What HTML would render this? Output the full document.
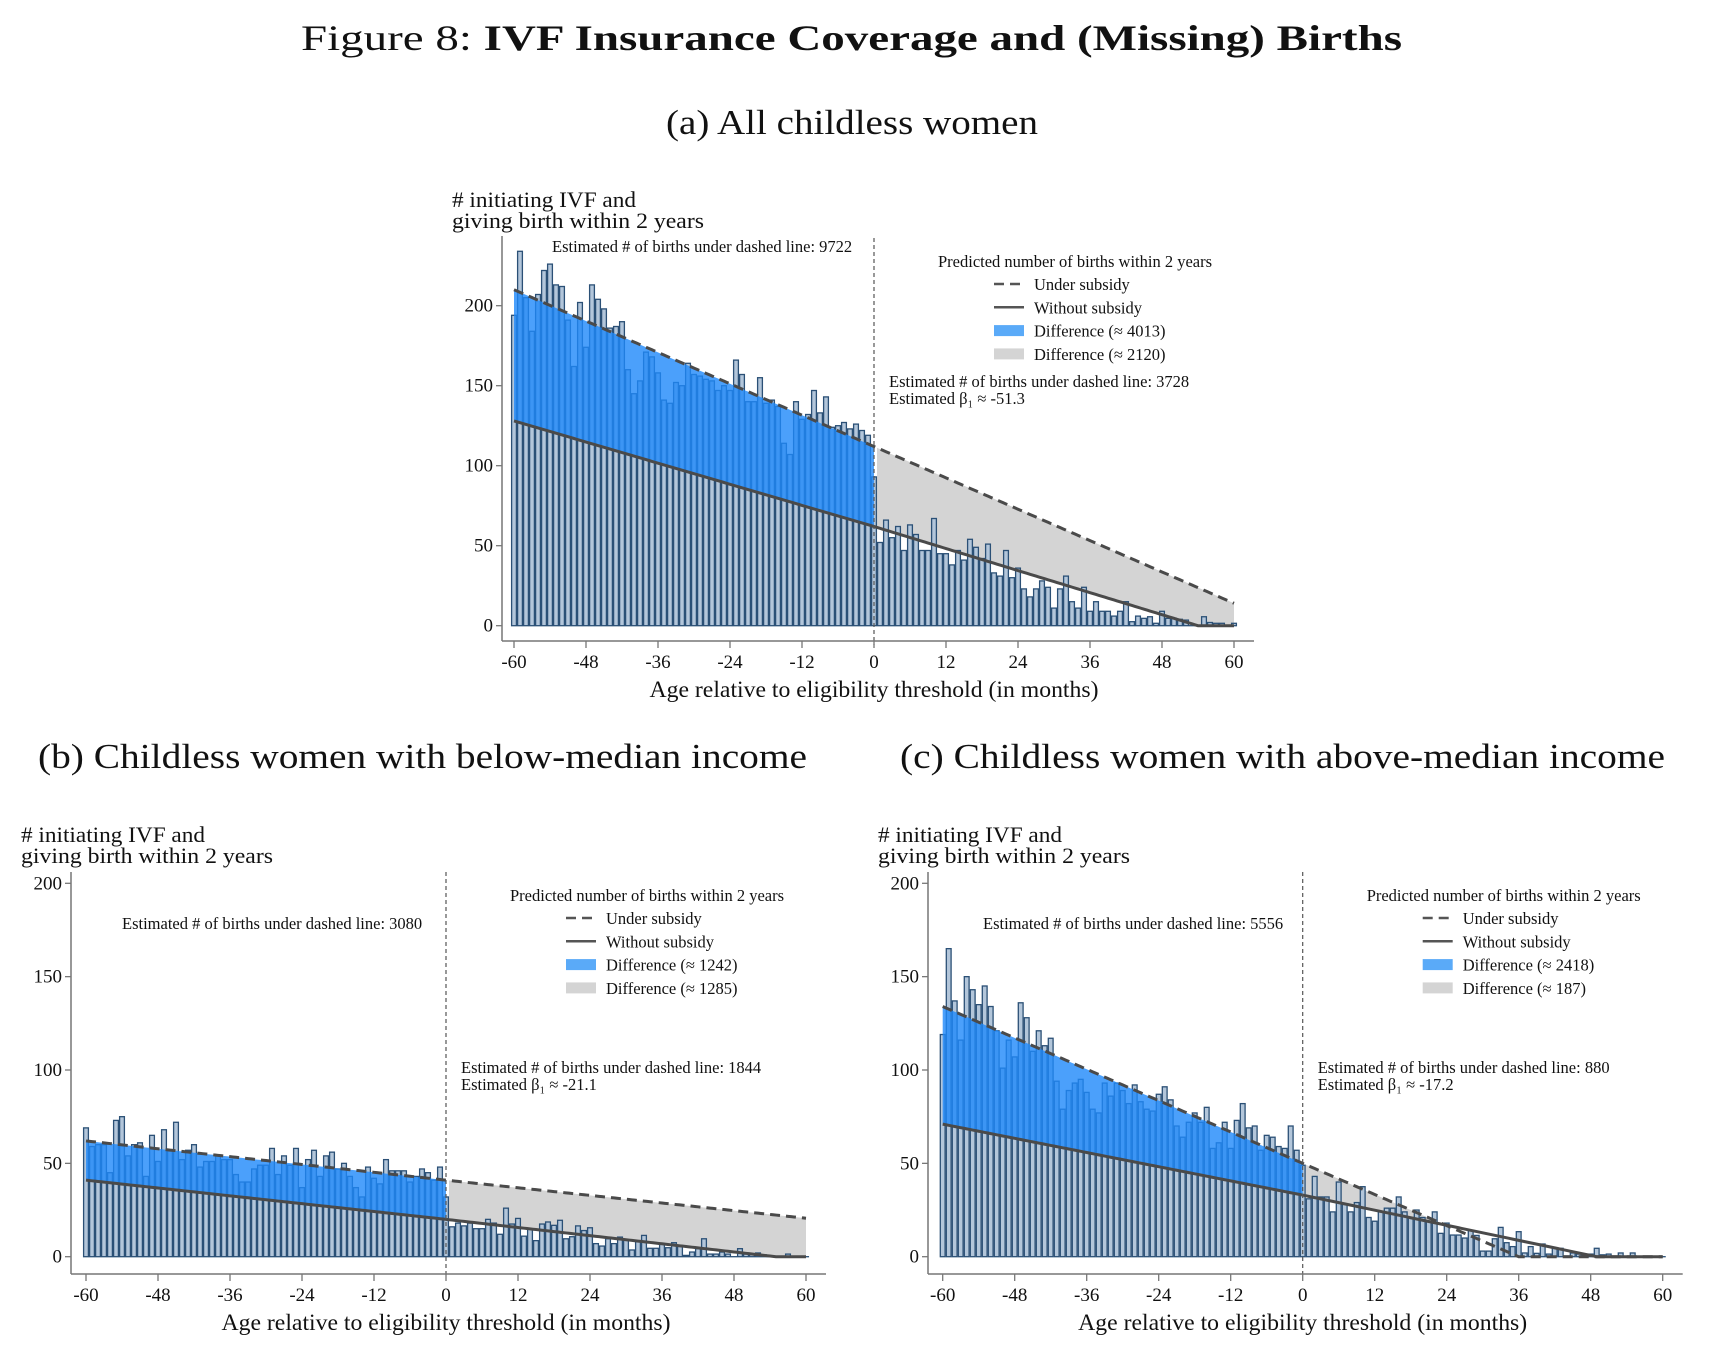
<!DOCTYPE html>
<html><head><meta charset="utf-8">
<style>
html,body{margin:0;padding:0;background:#fff;}
svg{display:block;font-family:"Liberation Serif",serif;}
</style></head>
<body>
<svg id="fig" width="1709" height="1353" viewBox="0 0 1709 1353" xmlns="http://www.w3.org/2000/svg">
<text x="301" y="50" font-size="36" fill="#111" textLength="1101" lengthAdjust="spacingAndGlyphs">Figure 8: <tspan font-weight="bold">IVF Insurance Coverage and (Missing) Births</tspan></text>
<text x="666" y="134" font-size="35" fill="#111" textLength="372" lengthAdjust="spacingAndGlyphs">(a) All childless women</text>
<text x="38" y="768" font-size="35" fill="#111" textLength="769" lengthAdjust="spacingAndGlyphs">(b) Childless women with below-median income</text>
<text x="900" y="768" font-size="35" fill="#111" textLength="765" lengthAdjust="spacingAndGlyphs">(c) Childless women with above-median income</text>
</svg>
<script>
// ---- data ----
const months = [];
for (let m = -60; m <= 60; m++) months.push(m);
const xTicks = [-60,-48,-36,-24,-12,0,12,24,36,48,60];
const yTicks = [0,50,100,150,200];

const barsA = [194,234,205,184,207,222,226,213,212,191,162,202,174,213,204,198,186,187,190,160,145,153,171,168,158,141,139,152,150,164,157,156,154,153,147,150,147,166,157,140,140,155,139,141,137,
114,107,140,129,132,147,133,143,124,125,127,123,126,122,119,93,
52,66,55,62,47,63,57,47,47,67,45,45,38,47,41,54,49,42,51,33,31,47,30,36,23,18,23,28,24,11,23,31,15,11,24,9,15,9,9,6,9,15,2.5,6,4.6,5.6,1.5,9,4.6,4.6,4,3.5,0,0,5.6,2,1.5,1.5,0,1.5];
const barsB = [69,59,60,60,45,73,75,54,60,61,43,65,51,68,57,72,52,57,60,48,51,51,54,52,52,44,40,40,47,49,49,58,44,54,49,58,37,52,57,43,54,56,47,50,43,37,32,48,42,39,52,46,46,46,40,43,47,45,41,48,32,
16,18,16.5,18,15,15,20,18,12,26,17.5,20.5,11,14.8,8.6,17.5,18.6,16.8,19.5,9.6,10.7,16.5,14,15.5,7,5.7,9.6,7,10.5,9,3.6,8,11.4,4.5,4.5,6.8,4.8,7.5,6,0.7,2.5,4.3,9.6,1.4,1.4,2.5,1.4,0,4.3,1.4,1.4,2,1,0,0,0,1.4,0,0,0];
const barsC = [119,165,137,116,150,143,135,145,134,121,101,116,107,136,128,110,121,113,117,94,79,89,93,95,88,79,77,93,86,93,89,82,92,83,79,78,87,91,84,70,64,72,77,72,80,58,61,72,58,73,82,69,70,57,65,64,59,58,70,57,49,
31,43,32,32,24,40,28,24,29,37.5,21,19,24,26,26,32,24,21,25,21,19,24,12.5,18,11.6,11.6,10,14,11.4,3,3,9.6,15.7,7.5,5.4,13.4,2,5.4,1.8,6.8,1.4,4.5,4.5,0.4,2,1.4,1,1.4,4.5,1,1.4,0,2,0,2,0,0,0,0,0];

// model lines: [month, value] knots
const dashedA = [[-60,210],[0,112],[60,14]];
const solidA  = [[-60,128],[0,62],[54,0],[60,0]];
const dashedB = [[-60,62],[0,41],[60,20.6]];
const solidB  = [[-60,41],[0,20],[55,0],[60,0]];
const dashedC = [[-60,134],[0,50],[36,0],[60,0]];
const solidC  = [[-60,71],[0,33],[49,0],[60,0]];

const notesA = ["9722","3728","-51.3","4013","2120"];
const notesB = ["3080","1844","-21.1","1242","1285"];
const notesC = ["5556","880","-17.2","2418","187"];

// ---- drawing ----
const NS = "http://www.w3.org/2000/svg";
const svg = document.getElementById("fig");
function mk(tag, attrs, parent) {
  const e = document.createElementNS(NS, tag);
  for (const k in attrs) e.setAttribute(k, attrs[k]);
  (parent || svg).appendChild(e);
  return e;
}
function interp(knots, m) {
  for (let i = 0; i < knots.length - 1; i++) {
    const [a, va] = knots[i], [b, vb] = knots[i + 1];
    if (m >= a && m <= b) return va + (vb - va) * (m - a) / (b - a);
  }
  return knots[knots.length - 1][1];
}

function panel(P) {
  const g = mk("g", {});
  
  
  const X = m => P.x0 + (m + 60) * P.sx;
  const Y = v => P.base - v * P.sy;
  const fine = [];
  for (let m = -60; m <= 60; m += 0.5) fine.push(m);

  let pts = [];
  const post = fine.filter(m => m >= 0.5);
  post.forEach(m => pts.push(X(m) + "," + Y(Math.max(interp(P.dashed, m), interp(P.solid, m)))));
  post.slice().reverse().forEach(m => pts.push(X(m) + "," + Y(interp(P.solid, m))));
  const grey = mk("polygon", {points: pts.join(" "), fill: "#d4d4d4"}, g);
  
  

  P.bars.forEach((v, i) => {
    const m = months[i];
    const r = mk("rect", {x: X(m) - 2.4, y: Y(v), width: 4.8, height: Math.max(v * P.sy, 0.01),
      fill: "#b3c6da", stroke: "#2b5076", "stroke-width": 1.3}, g);
    
    
  });

  pts = [];
  const pre = fine.filter(m => m <= 0);
  pre.forEach(m => pts.push(X(m) + "," + Y(interp(P.dashed, m))));
  pre.slice().reverse().forEach(m => pts.push(X(m) + "," + Y(interp(P.solid, m))));
  const blue = mk("polygon", {points: pts.join(" "), fill: "rgba(30,136,250,0.8)"}, g);
  
  

  const dl = mk("polyline", {points: fine.map(m => X(m) + "," + Y(interp(P.dashed, m))).join(" "),
    fill: "none", stroke: "#4a4a4a", "stroke-width": 3, "stroke-dasharray": "10 6"}, g);
  
  
  const sl = mk("polyline", {points: fine.map(m => X(m) + "," + Y(interp(P.solid, m))).join(" "),
    fill: "none", stroke: "#4a4a4a", "stroke-width": 3}, g);
  
  

  const vl = mk("line", {x1: X(0), x2: X(0), y1: P.vtop, y2: P.axisY + 4, stroke: "#555", "stroke-width": 1.2, "stroke-dasharray": "4 3"}, g);
  
  

  const ya = mk("line", {x1: P.axisX, x2: P.axisX, y1: P.ytop, y2: P.axisY, stroke: "#777", "stroke-width": 1.5}, g);
  
  
  const xa = mk("line", {x1: P.axisX, x2: X(60) + 20, y1: P.axisY, y2: P.axisY, stroke: "#777", "stroke-width": 1.5}, g);
  
  
  yTicks.forEach(t => {
    mk("line", {x1: P.axisX - 6, x2: P.axisX, y1: Y(t), y2: Y(t), stroke: "#777", "stroke-width": 1.3}, g);
    const tl = mk("text", {x: P.axisX - 9, y: Y(t) + 6, "text-anchor": "end", "font-size": 19, fill: "#111"}, g);
    tl.textContent = t;
    
    
  });
  xTicks.forEach(t => {
    mk("line", {x1: X(t), x2: X(t), y1: P.axisY, y2: P.axisY + 7, stroke: "#777", "stroke-width": 1.3}, g);
    const tl = mk("text", {x: X(t), y: P.axisY + 27, "text-anchor": "middle", "font-size": 19, fill: "#111"}, g);
    tl.textContent = t;
    
    
  });
  const xt = mk("text", {x: (X(-60) + X(60)) / 2, y: P.axisY + 56, "text-anchor": "middle", "font-size": 23, fill: "#111", textLength: 449, lengthAdjust: "spacingAndGlyphs"}, g);
  xt.textContent = "Age relative to eligibility threshold (in months)";
  
  
  [["# initiating IVF and", 184], ["giving birth within 2 years", 252]].forEach((s, i) => {
    const t = mk("text", {x: P.axisX - 50, y: P.ytitle + i * 21, "font-size": 22.5, fill: "#111", textLength: s[1], lengthAdjust: "spacingAndGlyphs"}, g);
    t.textContent = s[0];
    
    
  });

  const n = P.notes;
  const fs = 16.5;
  const a1 = mk("text", {x: P.noteL[0], y: P.noteL[1], "font-size": fs, fill: "#111"}, g);
  a1.textContent = "Estimated # of births under dashed line: " + n[0];
  
  
  const a2 = mk("text", {x: X(0) + 15, y: P.noteR, "font-size": fs, fill: "#111"}, g);
  a2.textContent = "Estimated # of births under dashed line: " + n[1];
  
  
  const a3 = mk("text", {x: X(0) + 15, y: P.noteR + 17, "font-size": fs, fill: "#111"}, g);
  a3.textContent = "Estimated β\u2081 \u2248 " + n[2];
  
  

  const lg = mk("g", {}, g);
  
  
  const lx = X(0) + 64, ly = P.legY;
  const lt = mk("text", {x: lx, y: ly + 6, "font-size": fs, fill: "#111"}, lg);
  lt.textContent = "Predicted number of births within 2 years";
  
  
  const ix = lx + 56, tx = lx + 96;
  const labels = ["Under subsidy", "Without subsidy", "Difference (\u2248 " + n[3] + ")", "Difference (\u2248 " + n[4] + ")"];
  labels.forEach((s, i) => {
    const cy = ly + 23 + i * 23.3;
    if (i === 0) mk("line", {x1: ix, x2: ix + 30, y1: cy, y2: cy, stroke: "#555", "stroke-width": 2.5, "stroke-dasharray": "10 6"}, lg);
    if (i === 1) mk("line", {x1: ix, x2: ix + 30, y1: cy, y2: cy, stroke: "#555", "stroke-width": 2.5}, lg);
    if (i === 2) mk("rect", {x: ix, y: cy - 5.5, width: 30, height: 11, fill: "#5aaaf8"}, lg);
    if (i === 3) mk("rect", {x: ix, y: cy - 5.5, width: 30, height: 11, fill: "#d4d4d4"}, lg);
    const t = mk("text", {x: tx, y: cy + 6, "font-size": fs, fill: "#111"}, lg);
    t.textContent = s;
    
    
  });
}

panel({name: "panel-a-chart", bars: barsA, dashed: dashedA, solid: solidA, notes: notesA,
  x0: 514, sx: 6.0, base: 625.7, sy: 1.6, axisX: 502, axisY: 641, ytop: 236, vtop: 238,
  ytitle: 207, noteL: [552, 252], noteR: 387, legY: 261});
panel({name: "panel-b-chart", bars: barsB, dashed: dashedB, solid: solidB, notes: notesB,
  x0: 86, sx: 6.0, base: 1256.7, sy: 1.867, axisX: 71, axisY: 1274, ytop: 872, vtop: 872,
  ytitle: 842, noteL: [122, 929], noteR: 1073, legY: 895});
panel({name: "panel-c-chart", bars: barsC, dashed: dashedC, solid: solidC, notes: notesC,
  x0: 942.7, sx: 6.0, base: 1256.7, sy: 1.867, axisX: 928, axisY: 1274, ytop: 872, vtop: 872,
  ytitle: 842, noteL: [983, 929], noteR: 1073, legY: 895});
</script>
</body></html>
